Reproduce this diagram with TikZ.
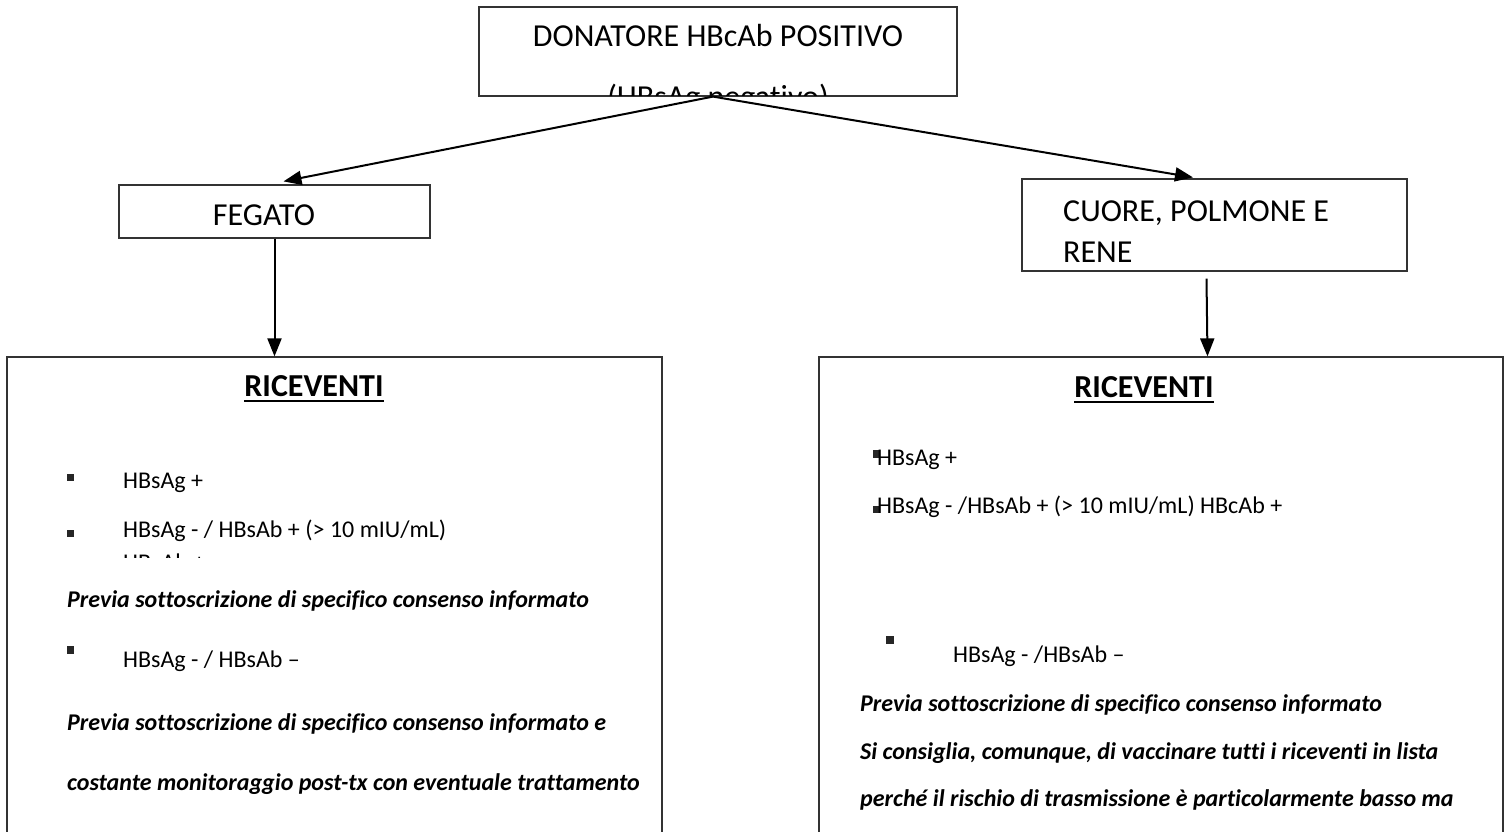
\documentclass[tikz,border=0pt]{standalone}
\usepackage{fontspec}
\setmainfont{Carlito}[Ligatures=NoCommon]
\usetikzlibrary{arrows.meta}
\tikzset{
  box/.style={draw=black!80, line width=1.2pt, inner sep=0pt},
  head/.style={inner sep=0pt, font=\fontsize{32}{38}\selectfont},
  txt/.style={inner sep=0pt, anchor=base west, font=\fontsize{24}{29}\selectfont},
  note/.style={txt, font=\fontsize{24}{29}\selectfont\bfseries\itshape},
  ttl/.style={inner sep=0pt, anchor=base, font=\fontsize{32}{38}\selectfont\bfseries},
  bul/.style={fill=black!85, inner sep=0pt, minimum size=7.5pt},
  arr/.style={-{Triangle[length=18pt,width=14pt]}, line width=2pt},
}
\begin{document}
\begin{tikzpicture}[x=1pt, y=-1pt]
      \fill[white] (0,0) rectangle (1505,832);
      \useasboundingbox (0,0) rectangle (1505,832);
      % boxes
      \node[box, minimum width=478pt, minimum height=89pt] (donor) at (718,51.5) {};
      \node[box, minimum width=311pt, minimum height=53pt] (liver) at (274.5,211.5) {};
      \node[box, minimum width=385pt, minimum height=92pt] (organs) at (1214.5,225) {};
      \node[box, minimum width=655pt, minimum height=560pt] (lbox) at (334.5,637) {};
      \node[box, minimum width=684pt, minimum height=560pt] (rbox) at (1161,637) {};
      % headings
      \node[head, anchor=base] (donor1) at (718,47) {DONATORE HBcAb POSITIVO};
      \begin{scope}
        \clip (479,7) rectangle (957,96);
        \node[head, anchor=base] (donor2) at (718,108) {(HBsAg negativo)};
      \end{scope}
      \node[head, anchor=base] (liver1) at (264,225) {FEGATO};
      \node[head, anchor=base west] (organs1) at (1063,222) {CUORE, POLMONE E};
      \node[head, anchor=base west] (organs2) at (1063,262) {RENE};
      % arrows
      \draw[arr] ([xshift=-5pt]donor.south) -- ([xshift=9pt,yshift=3pt]liver.north);
      \draw[arr] ([xshift=-5pt]donor.south) -- ([xshift=-21.5pt,yshift=1pt]organs.north);
      \draw[arr] (liver.south) -- (liver.south |- lbox.north);
      \draw[arr] ([xshift=-8pt,yshift=-7pt]organs.south) -- ([xshift=-7pt]organs.south |- rbox.north);
      % left recipients
      \node[ttl] (lric) at (314,396) {RICEVENTI};
      \draw[line width=2.5pt] ([yshift=-5pt]lric.base west) -- ([yshift=-5pt]lric.base east);
      \node[bul] (lb1) at (70.5,477.5) {};
      \node[bul] (lb2) at (70.5,533.5) {};
      \node[bul] (lb3) at (70.5,650) {};
      \node[txt] (l1) at (123,488) {HBsAg +};
      \node[txt] (l2) at (123,537) {HBsAg - / HBsAb + (> 10 mIU/mL)};
      \begin{scope}
        \clip (7,540) rectangle (662,557);
        \node[txt] (l3) at (123,570) {HBcAb +};
      \end{scope}
      \node[note] (l4) at (67,607) {Previa sottoscrizione di specifico consenso informato};
      \node[txt] (l5) at (123,667) {HBsAg - / HBsAb –};
      \node[note] (l6) at (67,730) {Previa sottoscrizione di specifico consenso informato e};
      \node[note] (l7) at (67,790) {costante monitoraggio post-tx con eventuale trattamento};
      % right recipients
      \node[ttl] (rric) at (1144,397) {RICEVENTI};
      \draw[line width=2.5pt] ([yshift=-5pt]rric.base west) -- ([yshift=-5pt]rric.base east);
      \node[bul] (rb1) at (876.5,454) {};
      \node[bul] (rb2) at (876.5,509.5) {};
      \node[bul] (rb3) at (890,640) {};
      \node[txt] (r1) at (877,465) {HBsAg +};
      \node[txt] (r2) at (877,513) {HBsAg - /HBsAb + (> 10 mIU/mL) HBcAb +};
      \node[txt] (r3) at (953,662) {HBsAg - /HBsAb –};
      \node[note] (r4) at (860,711) {Previa sottoscrizione di specifico consenso informato};
      \node[note] (r5) at (860,759) {Si consiglia, comunque, di vaccinare tutti i riceventi in lista};
      \node[note] (r6) at (860,806) {perché il rischio di trasmissione è particolarmente basso ma};
    \end{tikzpicture}
\end{document}
